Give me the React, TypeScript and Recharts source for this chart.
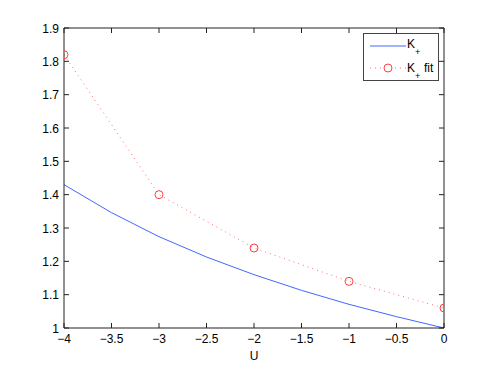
import { LineChart, Line, XAxis, YAxis } from 'recharts';

const kPlusU = [-4, -3.5, -3, -2.5, -2, -1.5, -1, -0.5, 0];
const kPlusValues = [1.43, 1.346, 1.274, 1.213, 1.16, 1.113, 1.071, 1.034, 1.0];
const fitU = [-4, -3, -2, -1, 0];
const fitValues = [1.82, 1.4, 1.24, 1.14, 1.06];
const xTicks = [-4, -3.5, -3, -2.5, -2, -1.5, -1, -0.5, 0];
const yTicks = [1, 1.1, 1.2, 1.3, 1.4, 1.5, 1.6, 1.7, 1.8, 1.9];

const kPlus = kPlusU.map((u, i) => ({ u, k: kPlusValues[i] }));
const kFit = fitU.map((u, i) => ({ u, k: fitValues[i] }));

const FONT = '"Liberation Sans", Arial, Helvetica, sans-serif';
const TICK = 5;
const BLUE = '#4466ff';
const RED_DOT = '#ff7070';
const RED = '#ff4040';
const fmt = (v: number) => String(v).replace('-', '\u2212');

const BottomTick = ({ x, y, payload }: any) => (
  <g>
    <line x1={x} y1={y} x2={x} y2={y - TICK} stroke="#222" />
    <text x={x} y={y + 15} textAnchor="middle" fontSize={12} fontFamily={FONT} fill="#000">
      {fmt(payload.value)}
    </text>
  </g>
);
const TopTick = ({ x, y }: any) => <line x1={x} y1={y} x2={x} y2={y + TICK} stroke="#222" />;
const LeftTick = ({ x, y, payload }: any) => (
  <g>
    <line x1={x} y1={y} x2={x + TICK} y2={y} stroke="#222" />
    <text x={x - 5} y={y + 4.5} textAnchor="end" fontSize={12} fontFamily={FONT} fill="#000">
      {String(payload.value)}
    </text>
  </g>
);
const RightTick = ({ x, y }: any) => <line x1={x} y1={y} x2={x - TICK} y2={y} stroke="#222" />;

function LegendBox() {
  return (
    <svg
      width={76}
      height={48}
      style={{ position: 'absolute', left: 355, top: 25, background: '#fff' }}
    >
      <rect x={0.5} y={0.5} width={75} height={47} fill="#fff" stroke="#444" />
      <line x1={7} y1={13} x2={43} y2={13} stroke={BLUE} />
      <text x={44} y={15} fontSize={12} fontFamily={FONT}>K</text>
      <text x={52} y={22} fontSize={9} fontFamily={FONT}>+</text>
      <line x1={7} y1={35} x2={43} y2={35} stroke={RED_DOT} strokeDasharray="1 4" />
      <circle cx={25} cy={35} r={4} fill="#fff" stroke={RED} />
      <text x={44} y={39} fontSize={12} fontFamily={FONT}>K</text>
      <text x={52} y={46} fontSize={9} fontFamily={FONT}>+</text>
      <text x={61} y={39} fontSize={12} fontFamily={FONT}>fit</text>
    </svg>
  );
}

export default function App() {
  return (
    <div style={{ position: 'relative', width: 483, height: 354 }}>
      <LineChart width={483} height={354} margin={{ top: 19, right: 46, bottom: 0, left: 0 }}>
        <XAxis
          dataKey="u"
          type="number"
          domain={[-4, 0]}
          ticks={xTicks}
          allowDataOverflow
          height={34}
          stroke="#222"
          tickLine={false}
          tickSize={0}
          tickMargin={0}
          tick={<BottomTick />}
          interval={0}
          label={{ value: 'U', position: 'insideBottom', offset: 2, fontSize: 12, fontFamily: FONT, fill: '#000' }}
        />
        <XAxis
          xAxisId="top"
          orientation="top"
          dataKey="u"
          type="number"
          domain={[-4, 0]}
          ticks={xTicks}
          allowDataOverflow
          height={1}
          stroke="#222"
          tickLine={false}
          tickSize={0}
          tickMargin={0}
          tick={<TopTick />}
          interval={0}
        />
        <YAxis
          type="number"
          domain={[1, 1.9]}
          ticks={yTicks}
          allowDataOverflow
          width={56}
          stroke="#222"
          tickLine={false}
          tickSize={0}
          tickMargin={0}
          tick={<LeftTick />}
          interval={0}
        />
        <YAxis
          yAxisId="right"
          orientation="right"
          type="number"
          domain={[1, 1.9]}
          ticks={yTicks}
          allowDataOverflow
          width={1}
          stroke="#222"
          tickLine={false}
          tickSize={0}
          tickMargin={0}
          tick={<RightTick />}
          interval={0}
        />
        {/* invisible series so the mirrored frame axes are drawn */}
        <Line
          data={kFit}
          dataKey="k"
          xAxisId="top"
          yAxisId="right"
          stroke="none"
          dot={false}
          legendType="none"
          isAnimationActive={false}
        />
        <Line
          data={kPlus}
          dataKey="k"
          type="linear"
          stroke={BLUE}
          strokeWidth={1}
          dot={false}
          isAnimationActive={false}
        />
        <Line
          data={kFit}
          dataKey="k"
          type="linear"
          stroke={RED_DOT}
          strokeWidth={1}
          strokeDasharray="1 4"
          dot={{ r: 4, fill: 'none', stroke: RED, strokeWidth: 1, strokeDasharray: '' }}
          isAnimationActive={false}
        />
      </LineChart>
      <LegendBox />
    </div>
  );
}
